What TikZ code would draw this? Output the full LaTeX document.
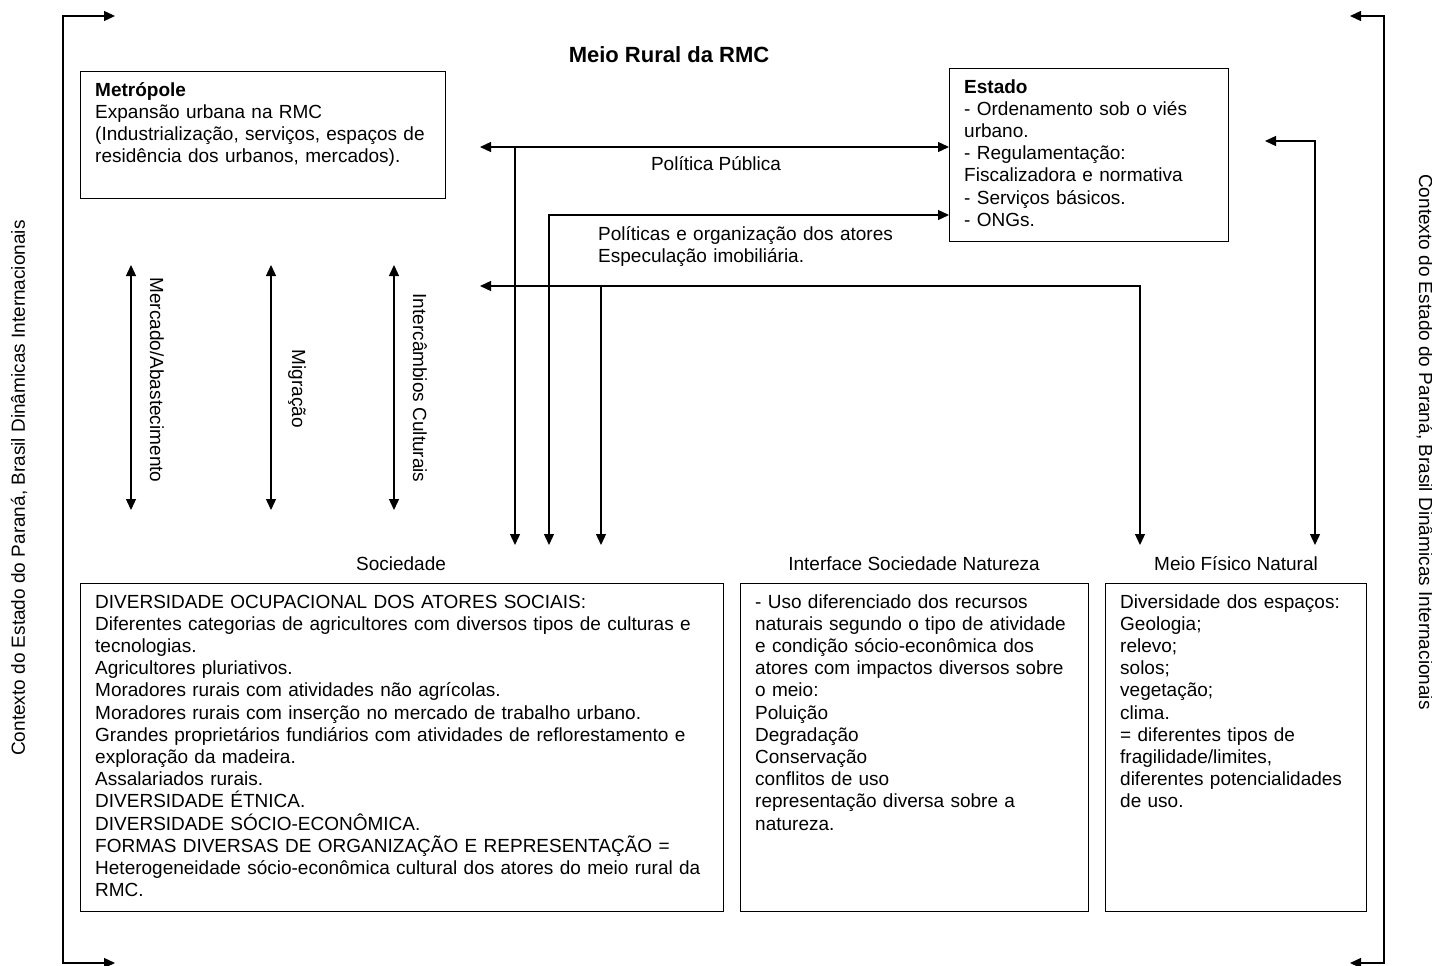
\documentclass[tikz,border=0pt]{standalone}
\usepackage{fontspec}
\setmainfont{Liberation Sans}
\usetikzlibrary{arrows.meta}
\begin{document}
\begin{tikzpicture}[x=1pt,y=-1pt,
  lbl/.style={font=\fontsize{19}{22.2}\selectfont, inner sep=0pt},
  txt/.style={lbl, align=left, anchor=base west},
  boxr/.style={draw, line width=1.2pt, anchor=north west, inner sep=0pt},
  conn/.style={line width=1.3pt, -{Triangle[length=11pt,width=10pt]}},
  dbl/.style={line width=1.3pt, {Triangle[length=11pt,width=10pt]}-{Triangle[length=11pt,width=10pt]}}]
\useasboundingbox (0,0) rectangle (1432,966);

% title
\node[lbl, font=\fontsize{22}{26}\selectfont\bfseries] (title) at (669,55) {Meio Rural da RMC};

% boxes
\node[boxr, minimum width=365pt, minimum height=127pt] (metro) at (80,71) {};
\node[txt, text width=340pt] (metrotxt) at (95,96) {\textbf{Metrópole}\\Expansão urbana na RMC\\(Industrialização, serviços, espaços de\\residência dos urbanos, mercados).};

\node[boxr, minimum width=279pt, minimum height=173pt] (estado) at (949,68) {};
\node[txt, text width=260pt] (estadotxt) at (964,93) {\textbf{Estado}\\- Ordenamento sob o viés\\urbano.\\- Regulamentação:\\Fiscalizadora e normativa\\- Serviços básicos.\\- ONGs.};

\node[boxr, minimum width=643pt, minimum height=328pt] (soc) at (80,583) {};
\node[txt, text width=625pt] (soctxt) at (95,608) {DIVERSIDADE OCUPACIONAL DOS ATORES SOCIAIS:\\Diferentes categorias de agricultores com diversos tipos de culturas e\\tecnologias.\\Agricultores pluriativos.\\Moradores rurais com atividades não agrícolas.\\Moradores rurais com inserção no mercado de trabalho urbano.\\Grandes proprietários fundiários com atividades de reflorestamento e\\exploração da madeira.\\Assalariados rurais.\\DIVERSIDADE ÉTNICA.\\DIVERSIDADE SÓCIO-ECONÔMICA.\\FORMAS DIVERSAS DE ORGANIZAÇÃO E REPRESENTAÇÃO =\\Heterogeneidade sócio-econômica cultural dos atores do meio rural da\\RMC.};

\node[boxr, minimum width=348pt, minimum height=328pt] (inter) at (740,583) {};
\node[txt, text width=330pt] (intertxt) at (755,608) {- Uso diferenciado dos recursos\\naturais segundo o tipo de atividade\\e condição sócio-econômica dos\\atores com impactos diversos sobre\\o meio:\\Poluição\\Degradação\\Conservação\\conflitos de uso\\representação diversa sobre a\\natureza.};

\node[boxr, minimum width=261pt, minimum height=328pt] (meio) at (1105,583) {};
\node[txt, text width=245pt] (meiotxt) at (1120,608) {Diversidade dos espaços:\\Geologia;\\relevo;\\solos;\\vegetação;\\clima.\\= diferentes tipos de\\fragilidade/limites,\\diferentes potencialidades\\de uso.};

% labels above boxes
\node[lbl] (socl) at (401,564) {Sociedade};
\node[lbl] (interl) at (914,564) {Interface Sociedade Natureza};
\node[lbl] (meiol) at (1236,564) {Meio Físico Natural};

% connector labels
\node[lbl] (pp) at (716,164) {Política Pública};
\node[txt, text width=340pt] (po) at (598,240) {Políticas e organização dos atores\\Especulação imobiliária.};

% Política Pública
\coordinate (ppL) at (480,147);
\coordinate (ppJ) at (515,147);
\coordinate (ppD) at (515,545);
\draw[dbl] (ppL) -- (ppL -| estado.west);
\draw[conn] (ppJ) -- (ppD);

% Políticas e organização
\coordinate (poC) at (549,215);
\coordinate (poD) at (549,545);
\draw[dbl] (poD) -- (poC) -- (poC -| estado.west);

% Especulação line
\coordinate (esL) at (480,286);
\coordinate (esR) at (1140,286);
\coordinate (esD) at (1140,545);
\coordinate (esJ) at (601,286);
\coordinate (esJD) at (601,545);
\draw[dbl] (esL) -- (esR) -- (esD);
\draw[conn] (esJ) -- (esJD);

% Meio físico <-> Estado
\coordinate (mfA) at (1265,141);
\coordinate (mfC) at (1315,141);
\coordinate (mfD) at (1315,545);
\draw[dbl] (mfA) -- (mfC) -- (mfD);

% vertical exchanges
\coordinate (v1t) at (131,265); \coordinate (v1b) at (131,510);
\coordinate (v2t) at (271,265); \coordinate (v2b) at (271,510);
\coordinate (v3t) at (394,265); \coordinate (v3b) at (394,510);
\draw[dbl] (v1t) -- (v1b);
\draw[dbl] (v2t) -- (v2b);
\draw[dbl] (v3t) -- (v3b);
\node[lbl, rotate=-90] (merc) at (157,380) {Mercado/Abastecimento};
\node[lbl, rotate=-90] (migr) at (297,389) {Migração};
\node[lbl, rotate=-90] (cult) at (420,388) {Intercâmbios Culturais};

% outer brackets
\coordinate (bl1) at (115,16); \coordinate (bl2) at (63,16);
\coordinate (bl3) at (63,963); \coordinate (bl4) at (115,963);
\draw[dbl] (bl1) -- (bl2) -- (bl3) -- (bl4);
\coordinate (br1) at (1350,16); \coordinate (br2) at (1384,16);
\coordinate (br3) at (1384,963); \coordinate (br4) at (1350,963);
\draw[dbl] (br1) -- (br2) -- (br3) -- (br4);

\node[lbl, rotate=90] (ctxL) at (19,488) {Contexto do Estado do Paraná, Brasil Dinâmicas Internacionais};
\node[lbl, rotate=-90] (ctxR) at (1425,442) {Contexto do Estado do Paraná, Brasil Dinâmicas Internacionais};
\end{tikzpicture}
\end{document}
